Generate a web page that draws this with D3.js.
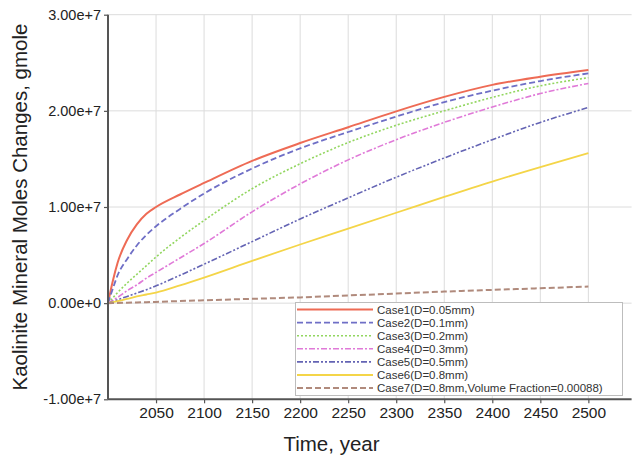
<!DOCTYPE html>
<html>
<head>
<meta charset="utf-8">
<script src="https://cdn.jsdelivr.net/npm/d3@7"></script>
<style>
  html, body { margin: 0; padding: 0; background: #fff; }
  svg { display: block; font-family: "Liberation Sans", Arial, sans-serif; }
</style>
</head>
<body>
<svg id="chart" width="632" height="456"></svg>
<script>
// Simulation output years
const years = [2000, 2005, 2010, 2020, 2030, 2040, 2050, 2075, 2100, 2150, 2200, 2250, 2300, 2350, 2400, 2450, 2500];

// Kaolinite mineral moles changes, in millions of gmole
const case1 = [0, 2.3, 4.2, 6.6, 8.2, 9.3, 10.0, 11.3, 12.5, 14.8, 16.65, 18.3, 19.95, 21.45, 22.7, 23.55, 24.25];
const case2 = [0, 1.5, 2.9, 4.6, 6.0, 7.1, 8.0, 9.8, 11.4, 14.0, 16.1, 17.8, 19.4, 20.9, 22.1, 23.1, 23.9];
const case3 = [0, 0.55, 1.1, 2.1, 3.0, 3.9, 4.8, 6.8, 8.6, 11.9, 14.5, 16.7, 18.5, 20.0, 21.4, 22.6, 23.45];
const case4 = [0, 0.3, 0.6, 1.3, 1.9, 2.6, 3.2, 4.7, 6.2, 9.5, 12.4, 14.9, 17.0, 18.8, 20.4, 21.8, 22.85];
const case5 = [0, 0.17, 0.35, 0.7, 1.05, 1.4, 1.8, 2.9, 4.05, 6.4, 8.75, 10.95, 13.1, 15.1, 17.0, 18.8, 20.35];
const case6 = [0, 0.1, 0.2, 0.45, 0.7, 0.9, 1.1, 1.85, 2.66, 4.4, 6.1, 7.75, 9.4, 11.05, 12.65, 14.15, 15.6];
const case7 = [0, 0.01, 0.02, 0.05, 0.07, 0.1, 0.13, 0.22, 0.3, 0.45, 0.6, 0.8, 1.0, 1.2, 1.38, 1.55, 1.73];

const seriesNames = [
  "Case1(D=0.05mm)",
  "Case2(D=0.1mm)",
  "Case3(D=0.2mm)",
  "Case4(D=0.3mm)",
  "Case5(D=0.5mm)",
  "Case6(D=0.8mm)",
  "Case7(D=0.8mm,Volume Fraction=0.00088)"
];
const seriesValues = [case1, case2, case3, case4, case5, case6, case7];

// Axis ticks
const xTicks = [2050, 2100, 2150, 2200, 2250, 2300, 2350, 2400, 2450, 2500];
const yTicks = [-10, 0, 10, 20, 30];
const yTickLabels = ["-1.00e+7", "0.00e+0", "1.00e+7", "2.00e+7", "3.00e+7"];

// Line styling per series
const styles = [
  { color: "#ee6b55", width: 2.0, dash: null },
  { color: "#6f6fc6", width: 1.8, dash: "6,3" },
  { color: "#92d65f", width: 1.6, dash: "2,2" },
  { color: "#e07ad8", width: 1.6, dash: "6,2,2,2" },
  { color: "#6464b4", width: 1.6, dash: "6,2,2,2,2,2" },
  { color: "#f4d548", width: 1.8, dash: null },
  { color: "#b08a7c", width: 2.0, dash: "6,3" }
];

const svg = d3.select("#chart");
const plotLeft = 108, plotRight = 631.6, plotTop = 14.7, plotBottom = 399.3;

const x = d3.scaleLinear().domain([2000, 2545]).range([plotLeft, plotRight]);
const y = d3.scaleLinear().domain([-10, 30]).range([plotBottom, plotTop]);

// Grid
const grid = svg.append("g").attr("stroke", "#dcdcdc").attr("stroke-width", 1);
grid.selectAll("line.v").data(xTicks).enter().append("line")
  .attr("x1", d => x(d)).attr("x2", d => x(d))
  .attr("y1", plotTop).attr("y2", plotBottom);
grid.selectAll("line.h").data(yTicks.filter(d => d > -10)).enter().append("line")
  .attr("x1", plotLeft).attr("x2", plotRight)
  .attr("y1", d => y(d)).attr("y2", d => y(d));

// Series lines
const line = d3.line()
  .x(d => x(d[0]))
  .y(d => y(d[1]))
  .curve(d3.curveMonotoneX);

const plot = svg.append("g");
seriesValues.forEach((vals, i) => {
  const pts = years.map((yr, j) => [yr, vals[j]]);
  plot.append("path")
    .datum(pts)
    .attr("d", line)
    .attr("fill", "none")
    .attr("stroke", styles[i].color)
    .attr("stroke-width", styles[i].width)
    .attr("stroke-dasharray", styles[i].dash);
});

// Axes
const xAxis = d3.axisBottom(x).tickValues(xTicks).tickSize(4).tickPadding(4).tickFormat(d3.format("d"));
const gx = svg.append("g").attr("transform", `translate(0,${plotBottom})`).call(xAxis);
gx.select(".domain").attr("d", `M${plotLeft},0H${plotRight}`).attr("stroke", "#555").attr("stroke-width", 2);
gx.selectAll(".tick line").attr("stroke", "#555").attr("stroke-width", 1.2);
gx.selectAll(".tick text").attr("font-size", 15.5).attr("fill", "#222")
  .attr("font-family", "'Liberation Sans', Arial, sans-serif");

const yAxis = d3.axisLeft(y).tickValues(yTicks).tickSize(4).tickPadding(3)
  .tickFormat((d, i) => yTickLabels[i]);
const gy = svg.append("g").attr("transform", `translate(${plotLeft},0)`).call(yAxis);
gy.select(".domain").attr("d", `M0,${plotTop}V${plotBottom}`).attr("stroke", "#555").attr("stroke-width", 2);
gy.selectAll(".tick line").attr("stroke", "#555").attr("stroke-width", 1.2);
gy.selectAll(".tick text").attr("font-size", 14.5).attr("fill", "#222")
  .attr("font-family", "'Liberation Sans', Arial, sans-serif");

// Axis titles
svg.append("text")
  .attr("x", 331.5).attr("y", 451)
  .attr("text-anchor", "middle")
  .attr("font-size", 20.5).attr("fill", "#222")
  .text("Time, year");

svg.append("text")
  .attr("transform", "translate(27,207) rotate(-90)")
  .attr("text-anchor", "middle")
  .attr("font-size", 20.5).attr("fill", "#222")
  .text("Kaolinite Mineral Moles Changes, gmole");

// Legend
const legend = svg.append("g");
legend.append("rect")
  .attr("x", 295.5).attr("y", 302.5).attr("width", 327).attr("height", 93)
  .attr("fill", "#fff").attr("stroke", "#bdbdbd").attr("stroke-width", 1);

const rowY = d3.scaleLinear().domain([0, 6]).range([309.5, 388.1]);
seriesNames.forEach((name, i) => {
  const cy = rowY(i);
  legend.append("line")
    .attr("x1", 297).attr("x2", 373)
    .attr("y1", cy).attr("y2", cy)
    .attr("stroke", styles[i].color)
    .attr("stroke-width", styles[i].width)
    .attr("stroke-dasharray", styles[i].dash);
  legend.append("text")
    .attr("x", 377).attr("y", cy + 4)
    .attr("font-size", 11.5).attr("fill", "#333")
    .text(name);
});
</script>
</body>
</html>
